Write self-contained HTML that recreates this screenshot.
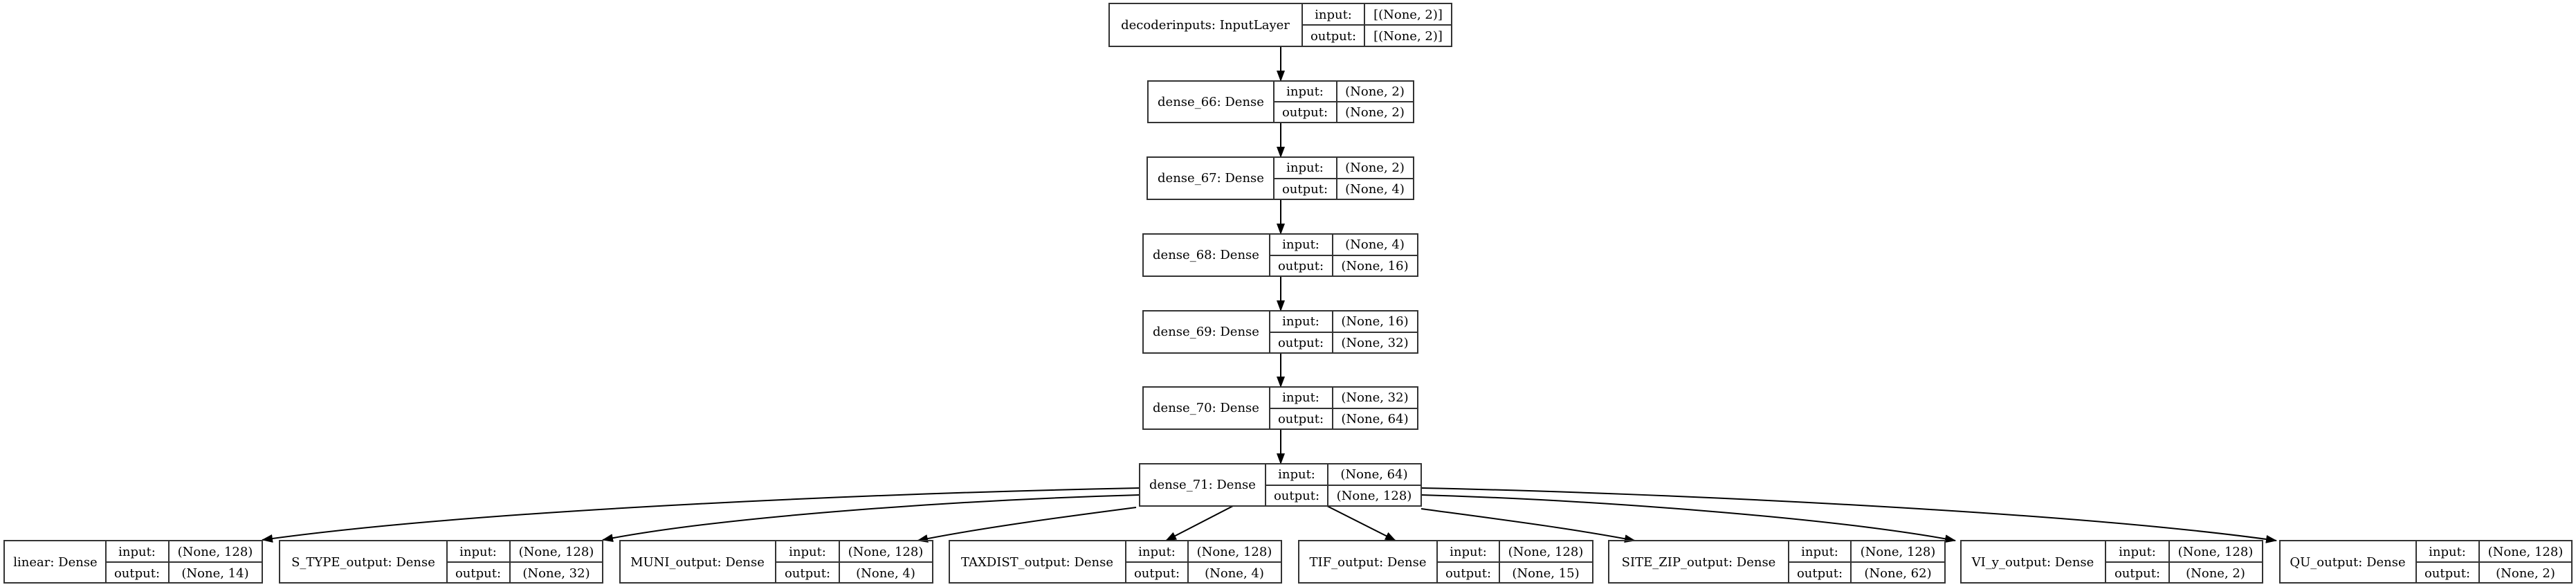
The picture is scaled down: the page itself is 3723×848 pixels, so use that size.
<!DOCTYPE html>
<html><head><meta charset="utf-8"><style>
html,body{margin:0;padding:0;background:#fff;}
svg{display:block;}
text{font-family:"DejaVu Serif","Liberation Serif",serif;font-size:18px;fill:#000;text-anchor:middle;}
.b{fill:none;stroke:#333;stroke-width:2;}
.e{fill:none;stroke:#000;stroke-width:2;}
</style></head><body>
<svg width="3723" height="848" viewBox="0 0 3723 848" xmlns="http://www.w3.org/2000/svg">
<defs><marker id="a" markerUnits="userSpaceOnUse" markerWidth="16" markerHeight="12" refX="15" refY="6" orient="auto"><path d="M0,0 L16,6 L0,12 z" fill="#000"/></marker></defs>

<!-- vertical edges -->
<path class="e" d="M1851,67 L1851,117" marker-end="url(#a)"/>
<path class="e" d="M1851,177 L1851,227" marker-end="url(#a)"/>
<path class="e" d="M1851,288 L1851,338" marker-end="url(#a)"/>
<path class="e" d="M1851,399 L1851,449" marker-end="url(#a)"/>
<path class="e" d="M1851,510 L1851,559" marker-end="url(#a)"/>
<path class="e" d="M1851,620 L1851,670" marker-end="url(#a)"/>

<!-- fan-out edges -->
<path class="e" d="M1647,705 C1300,712 700,735 379,780" marker-end="url(#a)"/>
<path class="e" d="M1647,715 C1400,722 1050,745 871,780" marker-end="url(#a)"/>
<path class="e" d="M1642,733 C1550,745 1420,762 1326,781" marker-end="url(#a)"/>
<path class="e" d="M1782,731 L1685,781" marker-end="url(#a)"/>
<path class="e" d="M1918,731 L2017,781" marker-end="url(#a)"/>
<path class="e" d="M2054,735 C2150,748 2270,763 2363,781" marker-end="url(#a)"/>
<path class="e" d="M2054,715 C2300,722 2650,748 2826,781" marker-end="url(#a)"/>
<path class="e" d="M2054,705 C2400,712 3000,740 3290,781" marker-end="url(#a)"/>

<!-- top -->
<rect class="b" x="1603" y="5" width="495" height="62"/>
<path class="b" d="M1882,5V67M1972,5V67M1882,36H2098"/>
<text x="1742" y="42">decoderinputs: InputLayer</text>
<text x="1927" y="27">input:</text><text x="2035" y="27">[(None, 2)]</text>
<text x="1927" y="58">output:</text><text x="2035" y="58">[(None, 2)]</text>

<!-- dense_66 -->
<rect class="b" x="1659" y="117" width="384" height="60"/>
<path class="b" d="M1841,117V177M1932,117V177M1841,147H2043"/>
<text x="1750" y="153">dense_66: Dense</text>
<text x="1886" y="138">input:</text><text x="1987" y="138">(None, 2)</text>
<text x="1886" y="168">output:</text><text x="1987" y="168">(None, 2)</text>

<!-- dense_67 -->
<rect class="b" x="1658" y="227" width="385" height="61"/>
<path class="b" d="M1841,227V288M1932,227V288M1841,258H2043"/>
<text x="1750" y="263">dense_67: Dense</text>
<text x="1886" y="248">input:</text><text x="1987" y="248">(None, 2)</text>
<text x="1886" y="279">output:</text><text x="1987" y="279">(None, 4)</text>

<!-- dense_68 -->
<rect class="b" x="1652" y="338" width="397" height="61"/>
<path class="b" d="M1835,338V399M1926,338V399M1835,369H2049"/>
<text x="1743" y="374">dense_68: Dense</text>
<text x="1880" y="359">input:</text><text x="1987" y="359">(None, 4)</text>
<text x="1880" y="390">output:</text><text x="1987" y="390">(None, 16)</text>

<!-- dense_69 -->
<rect class="b" x="1652" y="449" width="397" height="61"/>
<path class="b" d="M1835,449V510M1926,449V510M1835,480H2049"/>
<text x="1743" y="485">dense_69: Dense</text>
<text x="1880" y="470">input:</text><text x="1987" y="470">(None, 16)</text>
<text x="1880" y="501">output:</text><text x="1987" y="501">(None, 32)</text>

<!-- dense_70 -->
<rect class="b" x="1652" y="559" width="397" height="61"/>
<path class="b" d="M1835,559V620M1926,559V620M1835,590H2049"/>
<text x="1743" y="595">dense_70: Dense</text>
<text x="1880" y="580">input:</text><text x="1987" y="580">(None, 32)</text>
<text x="1880" y="611">output:</text><text x="1987" y="611">(None, 64)</text>

<!-- dense_71 -->
<rect class="b" x="1647" y="670" width="407" height="61"/>
<path class="b" d="M1829,670V731M1919,670V731M1829,701H2054"/>
<text x="1738" y="706">dense_71: Dense</text>
<text x="1874" y="691">input:</text><text x="1986" y="691">(None, 64)</text>
<text x="1874" y="722">output:</text><text x="1986" y="722">(None, 128)</text>

<!-- bottom row -->
<rect class="b" x="6" y="781" width="373" height="61"/>
<path class="b" d="M153,781V842M244,781V842M153,812H379"/>
<text x="80" y="818">linear: Dense</text>
<text x="198" y="803">input:</text><text x="311" y="803">(None, 128)</text>
<text x="198" y="834">output:</text><text x="311" y="834">(None, 14)</text>

<rect class="b" x="404" y="781" width="467" height="61"/>
<path class="b" d="M646,781V842M737,781V842M646,812H871"/>
<text x="525" y="818">S_TYPE_output: Dense</text>
<text x="691" y="803">input:</text><text x="804" y="803">(None, 128)</text>
<text x="691" y="834">output:</text><text x="804" y="834">(None, 32)</text>

<rect class="b" x="896" y="781" width="452" height="61"/>
<path class="b" d="M1121,781V842M1213,781V842M1121,812H1348"/>
<text x="1008" y="818">MUNI_output: Dense</text>
<text x="1167" y="803">input:</text><text x="1280" y="803">(None, 128)</text>
<text x="1167" y="834">output:</text><text x="1280" y="834">(None, 4)</text>

<rect class="b" x="1372" y="781" width="480" height="61"/>
<path class="b" d="M1627,781V842M1717,781V842M1627,812H1852"/>
<text x="1499" y="818">TAXDIST_output: Dense</text>
<text x="1672" y="803">input:</text><text x="1784" y="803">(None, 128)</text>
<text x="1672" y="834">output:</text><text x="1784" y="834">(None, 4)</text>

<rect class="b" x="1877" y="781" width="425" height="61"/>
<path class="b" d="M2077,781V842M2167,781V842M2077,812H2302"/>
<text x="1977" y="818">TIF_output: Dense</text>
<text x="2122" y="803">input:</text><text x="2234" y="803">(None, 128)</text>
<text x="2122" y="834">output:</text><text x="2234" y="834">(None, 15)</text>

<rect class="b" x="2325" y="781" width="486" height="61"/>
<path class="b" d="M2585,781V842M2675,781V842M2585,812H2811"/>
<text x="2455" y="818">SITE_ZIP_output: Dense</text>
<text x="2630" y="803">input:</text><text x="2743" y="803">(None, 128)</text>
<text x="2630" y="834">output:</text><text x="2743" y="834">(None, 62)</text>

<rect class="b" x="2834" y="781" width="436" height="61"/>
<path class="b" d="M3043,781V842M3135,781V842M3043,812H3270"/>
<text x="2938" y="818">VI_y_output: Dense</text>
<text x="3089" y="803">input:</text><text x="3202" y="803">(None, 128)</text>
<text x="3089" y="834">output:</text><text x="3202" y="834">(None, 2)</text>

<rect class="b" x="3295" y="781" width="422" height="61"/>
<path class="b" d="M3492,781V842M3583,781V842M3492,812H3717"/>
<text x="3393" y="818">QU_output: Dense</text>
<text x="3537" y="803">input:</text><text x="3650" y="803">(None, 128)</text>
<text x="3537" y="834">output:</text><text x="3650" y="834">(None, 2)</text>
</svg>
</body></html>
